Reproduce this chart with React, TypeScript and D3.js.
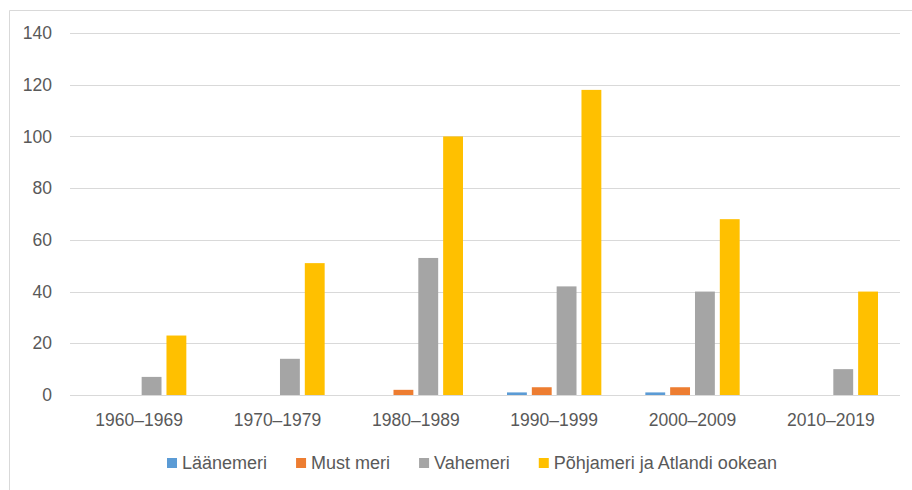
import { useEffect, useRef } from 'react';
import { scaleBand, scaleLinear, select } from 'd3';

const categories = ['1960–1969', '1970–1979', '1980–1989', '1990–1999', '2000–2009', '2010–2019'];
const seriesNames = ['Läänemeri', 'Must meri', 'Vahemeri', 'Põhjameri ja Atlandi ookean'];
const laanemeri = [0, 0, 0, 1, 1, 0];
const mustMeri = [0, 0, 2, 3, 3, 0];
const vahemeri = [7, 14, 53, 42, 40, 10];
const pohjameri = [23, 51, 100, 118, 68, 40];
const yTicks = [0, 20, 40, 60, 80, 100, 120, 140];
const colors = ['#5B9BD5', '#ED7D31', '#A5A5A5', '#FFC000'];

const width = 912;
const height = 490;
const font = '"Liberation Sans", Arial, sans-serif';
const textColor = '#595959';

const App = () => {
  const svgRef = useRef<SVGSVGElement>(null);

  useEffect(() => {
    const svg = select(svgRef.current);
    svg.selectAll('*').remove();

    const values = [laanemeri, mustMeri, vahemeri, pohjameri];
    const x0 = scaleBand<string>().domain(categories).range([70, 900]);
    const x1 = scaleBand<string>()
      .domain(seriesNames)
      .range([22, x0.bandwidth() - 22])
      .paddingInner(0.2);
    const y = scaleLinear().domain([0, 140]).range([395, 33]);

    // chart frame (top and left edges only visible)
    svg.append('line').attr('x1', 9.5).attr('x2', width).attr('y1', 10.5).attr('y2', 10.5)
      .attr('stroke', '#D9D9D9');
    svg.append('line').attr('x1', 9.5).attr('x2', 9.5).attr('y1', 10.5).attr('y2', height)
      .attr('stroke', '#D9D9D9');

    svg.append('g')
      .selectAll('line')
      .data(yTicks)
      .join('line')
      .attr('x1', 70)
      .attr('x2', 900)
      .attr('y1', (d) => Math.round(y(d)) + 0.5)
      .attr('y2', (d) => Math.round(y(d)) + 0.5)
      .attr('stroke', '#D9D9D9')
      .attr('stroke-width', 1);

    svg.append('g')
      .selectAll('text')
      .data(yTicks)
      .join('text')
      .attr('x', 52)
      .attr('y', (d) => y(d))
      .attr('dy', '0.35em')
      .attr('text-anchor', 'end')
      .attr('font-family', font)
      .attr('font-size', 17.5)
      .attr('fill', textColor)
      .text((d) => d);

    const groups = svg.append('g')
      .selectAll('g')
      .data(categories)
      .join('g')
      .attr('transform', (d) => `translate(${x0(d)},0)`);

    groups.selectAll('rect')
      .data((d) => seriesNames.map((s, j) => ({ s, j, v: values[j][categories.indexOf(d)] })))
      .join('rect')
      .attr('x', (d) => x1(d.s)!)
      .attr('width', x1.bandwidth())
      .attr('y', (d) => y(d.v))
      .attr('height', (d) => y(0) - y(d.v))
      .attr('fill', (d) => colors[d.j]);

    svg.append('g')
      .selectAll('text')
      .data(categories)
      .join('text')
      .attr('x', (d) => x0(d)! + x0.bandwidth() / 2)
      .attr('y', 426)
      .attr('text-anchor', 'middle')
      .attr('font-family', font)
      .attr('font-size', 17.5)
      .attr('fill', textColor)
      .text((d) => d);

    // legend, laid out by measured text widths
    const legend = svg.append('g');
    let lx = 167;
    seriesNames.forEach((name, i) => {
      legend.append('rect')
        .attr('x', lx)
        .attr('y', 458)
        .attr('width', 10)
        .attr('height', 10)
        .attr('fill', colors[i]);
      const t = legend.append('text')
        .attr('x', lx + 15)
        .attr('y', 463)
        .attr('dy', '0.35em')
        .attr('font-family', font)
        .attr('font-size', 18)
        .attr('fill', textColor)
        .text(name);
      const w = (t.node() as SVGTextElement).getComputedTextLength();
      lx += 15 + w + 29;
    });
  }, []);

  return (
    <svg
      ref={svgRef}
      width={width}
      height={height}
      style={{ position: 'absolute', left: 0, top: 0, background: '#fff' }}
    />
  );
};

export default App;
